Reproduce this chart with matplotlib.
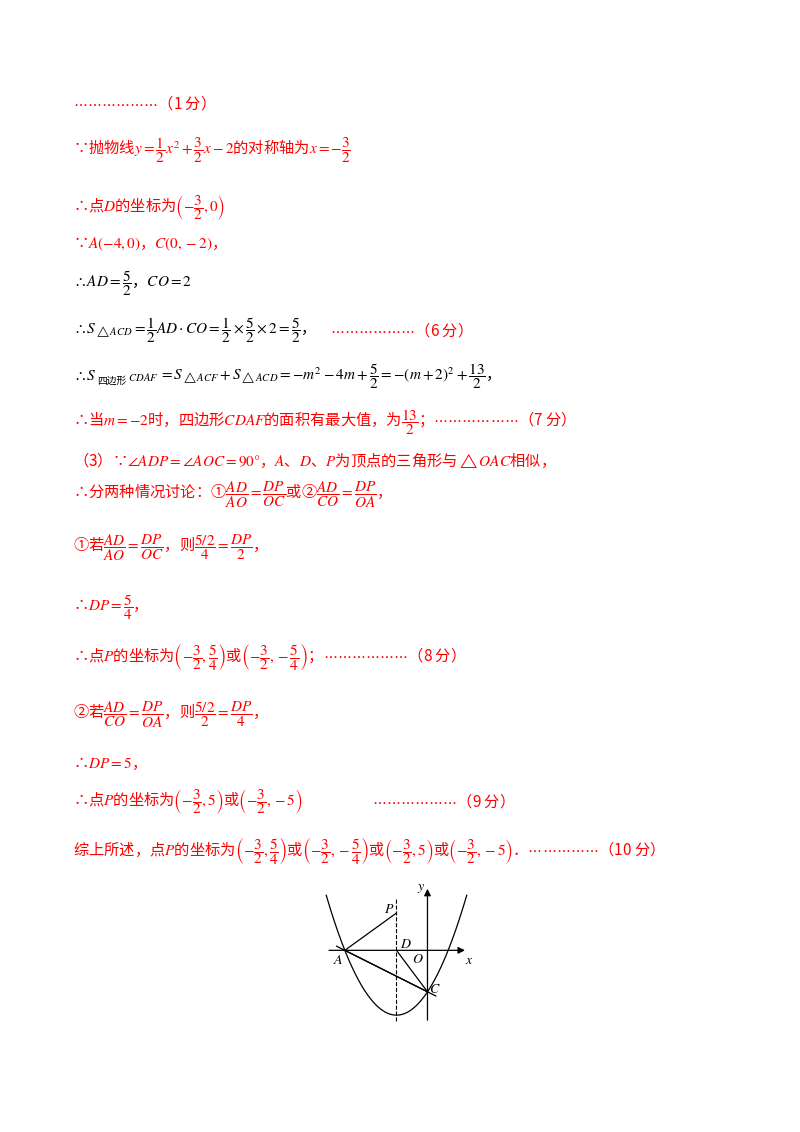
import matplotlib
matplotlib.use("Agg")
import matplotlib.pyplot as plt
import numpy as np

plt.rcParams['font.family'] = ['Noto Sans CJK SC', 'DejaVu Sans']
plt.rcParams['mathtext.fontset'] = 'stix'

R = '#ff0000'
K = '#000000'
FS = 11
lines = [
    (103, r'$\cdots\cdots\cdots\cdots\cdots\cdots$（1 分）', R),
    (150, r'∵抛物线$y=\dfrac{1}{2}x^2+\dfrac{3}{2}x-2$的对称轴为$x=-\dfrac{3}{2}$', R),
    (208, r'∴点$D$的坐标为$\left(-\dfrac{3}{2},0\right)$', R),
    (244, r'∵$A(-4,0)$，$C(0,-2)$，', R),
    (283, r'$\therefore AD=\dfrac{5}{2}$，$CO=2$', K),
    (330, r'$\therefore S_{\triangle ACD}=\dfrac{1}{2}AD\cdot CO=\dfrac{1}{2}\times\dfrac{5}{2}\times2=\dfrac{5}{2}$，', K),
    (422, r'∴当$m=-2$时，四边形$CDAF$的面积有最大值，为$\dfrac{13}{2}$；$\cdots\cdots\cdots\cdots\cdots\cdots$（7 分）', R),
    (460, r'（3）∵$\angle ADP=\angle AOC=90°$，$A$、$D$、$P$为顶点的三角形与$\triangle OAC$相似，', R),
    (495, r'∴分两种情况讨论：①$\dfrac{AD}{AO}=\dfrac{DP}{OC}$或②$\dfrac{AD}{CO}=\dfrac{DP}{OA}$，', R),
    (548, r'①若$\dfrac{AD}{AO}=\dfrac{DP}{OC}$，则$\dfrac{5/2}{4}=\dfrac{DP}{2}$，', R),
    (607, r'∴$DP=\dfrac{5}{4}$，', R),
    (657, r'∴点$P$的坐标为$\left(-\dfrac{3}{2},\dfrac{5}{4}\right)$或$\left(-\dfrac{3}{2},-\dfrac{5}{4}\right)$；$\cdots\cdots\cdots\cdots\cdots\cdots$（8 分）', R),
    (715, r'②若$\dfrac{AD}{CO}=\dfrac{DP}{OA}$，则$\dfrac{5/2}{2}=\dfrac{DP}{4}$，', R),
    (764, r'∴$DP=5$，', R),
    (801, r'∴点$P$的坐标为$\left(-\dfrac{3}{2},5\right)$或$\left(-\dfrac{3}{2},-5\right)$', R),
    (851, r'综上所述，点$P$的坐标为$\left(-\dfrac{3}{2},\dfrac{5}{4}\right)$或$\left(-\dfrac{3}{2},-\dfrac{5}{4}\right)$或$\left(-\dfrac{3}{2},5\right)$或$\left(-\dfrac{3}{2},-5\right)$．$\cdots\cdots\cdots\cdots\cdots$（10 分）', R),
]
extra = [(372, 801, r'$\cdots\cdots\cdots\cdots\cdots\cdots$（9 分）', R),
         (330, 330, r'$\cdots\cdots\cdots\cdots\cdots\cdots$（6 分）', R)]

W, H = 800, 1132
fig = plt.figure(figsize=(8, 11.32), dpi=100)
for y, t, c in lines:
    fig.text(73 / W, 1 - y / H, t, color=c, fontsize=FS, va='center', ha='left')
for x, y, t, c in extra:
    fig.text(x / W, 1 - y / H, t, color=c, fontsize=FS, va='center', ha='left')

fig.canvas.draw()
rend = fig.canvas.get_renderer()
segs = [(r'$\therefore S$', FS, 0), ('四边形', 7, -5), (r'$_{CDAF}$', FS, 0),
        (r'$=S_{\triangle ACF}+S_{\triangle ACD}=-m^2-4m+\dfrac{5}{2}=-(m+2)^2+\dfrac{13}{2}$，', FS, 0)]
xp = 73
for t, fs, dy in segs:
    tx = fig.text(xp / W, 1 - (376 - dy) / H, t, color=K, fontsize=fs, va='center', ha='left')
    xp += tx.get_window_extent(rend).width + 1

# small diagram
a, b, cc = 0.5, 1.5, -2.0
A = (-4, 0); C = (0, -2); D = (-1.5, 0); P = (-1.5, 1.8); O = (0, 0)
ax = fig.add_axes([325 / W, 1 - 1025 / H, 150 / W, 140 / H])
ax.set_xlim(-4.96, 2.3)
ax.set_ylim(-3.6, 3.15)
ax.axis('off')
xs = np.linspace(-4.9, 1.9, 300)
ys = a * xs**2 + b * xs + cc
m = ys < 3.0
ax.plot(xs[m], ys[m], color='k', lw=0.9)
ax.annotate('', xy=(1.95, 0), xytext=(-4.9, 0), arrowprops=dict(arrowstyle='-|>', color='k', lw=0.9))
ax.annotate('', xy=(0, 3.1), xytext=(0, -3.5), arrowprops=dict(arrowstyle='-|>', color='k', lw=0.9))
ax.plot([D[0], D[0]], [-3.4, 2.5], color='k', lw=0.8, ls='--')
for p, q in [(A, P), (A, C), (D, C)]:
    ax.plot([p[0], q[0]], [p[1], q[1]], color='k', lw=0.9)
ax.plot([A[0] - 0.4, C[0] + 0.4], [A[1] + 0.2, C[1] - 0.2], color='k', lw=0.9)
for lab, (x, y), dx, dy in [('A', A, -0.3, -0.45), ('C', C, 0.35, 0.15), ('D', D, 0.45, 0.3),
                             ('P', P, -0.35, 0.2), ('O', O, -0.45, -0.4), ('x', (1.9, 0), 0.1, -0.45),
                             ('y', (0, 3.0), -0.3, 0.0)]:
    ax.text(x + dx, y + dy, '$' + lab + '$', fontsize=10, ha='center', va='center')

fig.savefig('out.png', dpi=100)
